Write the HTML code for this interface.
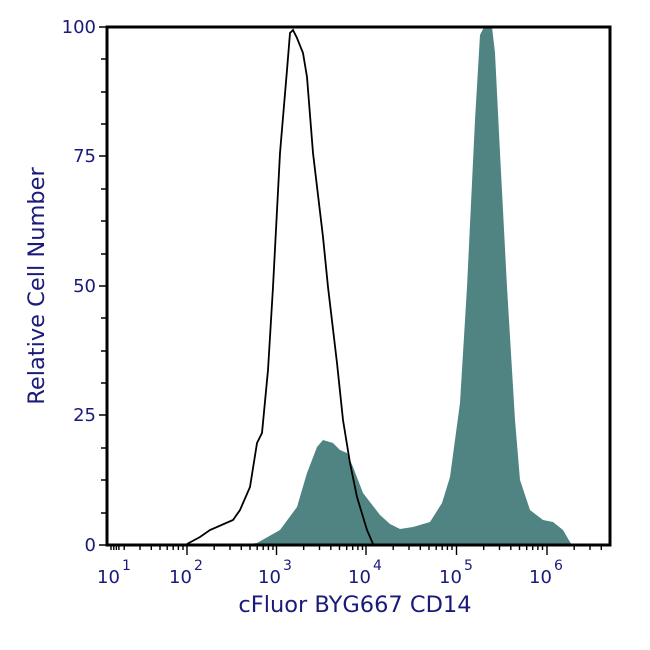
<!DOCTYPE html>
<html><head><style>body{margin:0;background:#fff}svg{display:block}</style></head><body>
<svg width="650" height="650" viewBox="0 0 650 650" xmlns="http://www.w3.org/2000/svg" font-family="DejaVu Sans, Liberation Sans, sans-serif">
<rect width="650" height="650" fill="#fff"/>
<path d="M240,545 L257,543 L280,530 L297,507 L307,473 L317,447 L323,440 L333,443 L340,450 L347,453 L353,467 L363,493 L380,515 L390,524 L400,529 L413,527 L430,522 L442,503 L450,477 L460,403 L467,287 L475,120 L480,35 L484,27 L492,27 L495,53 L500,153 L507,287 L515,420 L520,480 L530,510 L543,520 L553,522 L563,530 L570,542 L572,545 Z" fill="#4f8482"/>
<path d="M187,544 L200,537 L210,530 L233,520 L240,510 L250,487 L257,443 L262,433 L268,370 L273,287 L280,153 L287,70 L290,33 L293,30 L297,38 L303,53 L307,77 L313,153 L323,237 L328,287 L337,363 L343,420 L350,463 L357,497 L367,530 L373,544" fill="none" stroke="#000" stroke-width="1.8"/>
<rect x="107" y="27" width="503" height="518" fill="none" stroke="#000" stroke-width="3"/>
<g stroke="#000" stroke-width="1.5">
<line x1="99" y1="27" x2="107" y2="27"/><line x1="99" y1="156" x2="107" y2="156"/><line x1="99" y1="286" x2="107" y2="286"/><line x1="99" y1="415" x2="107" y2="415"/><line x1="99" y1="545" x2="107" y2="545"/>
<line x1="101" y1="59" x2="107" y2="59"/><line x1="101" y1="92" x2="107" y2="92"/><line x1="101" y1="124" x2="107" y2="124"/>
<line x1="101" y1="189" x2="107" y2="189"/><line x1="101" y1="221" x2="107" y2="221"/><line x1="101" y1="254" x2="107" y2="254"/>
<line x1="101" y1="318" x2="107" y2="318"/><line x1="101" y1="351" x2="107" y2="351"/><line x1="101" y1="383" x2="107" y2="383"/>
<line x1="101" y1="448" x2="107" y2="448"/><line x1="101" y1="480" x2="107" y2="480"/><line x1="101" y1="513" x2="107" y2="513"/>
</g>
<g stroke="#000" stroke-width="1.4" fill="none">
<path d="M187,545v10M276.5,545v10M366,545v10M456.5,545v10M547,545v10
M111,545v5M113.8,545v5M116.4,545v5M118.9,545v5
M124.2,545v5M140,545v5M151.3,545v5M160,545v5M167.2,545v5M173.2,545v5M178.4,545v5M183,545v5
M214.2,545v5M230,545v5M241.3,545v5M250,545v5M257.2,545v5M263.2,545v5M268.4,545v5M273,545v5
M303.7,545v5M319.5,545v5M330.8,545v5M339.5,545v5M346.7,545v5M352.7,545v5M357.9,545v5M362.5,545v5
M393.2,545v5M409,545v5M420.3,545v5M429,545v5M436.2,545v5M442.2,545v5M447.4,545v5M452,545v5
M483.7,545v5M499.5,545v5M510.8,545v5M519.5,545v5M526.7,545v5M532.7,545v5M537.9,545v5M542.5,545v5
M574.2,545v5M590,545v5M601.3,545v5"/>
</g>
<g fill="#1a1a7a" font-size="18">
<text x="96" y="33" text-anchor="end">100</text>
<text x="96" y="162" text-anchor="end">75</text>
<text x="96" y="292" text-anchor="end">50</text>
<text x="96" y="421" text-anchor="end">25</text>
<text x="96" y="551" text-anchor="end">0</text>
<text x="97" y="583">10</text><text x="122" y="570" font-size="14">1</text>
<text x="169" y="583">10</text><text x="194" y="570" font-size="14">2</text>
<text x="258" y="583">10</text><text x="283" y="570" font-size="14">3</text>
<text x="348" y="583">10</text><text x="373" y="570" font-size="14">4</text>
<text x="439" y="583">10</text><text x="464" y="570" font-size="14">5</text>
<text x="529" y="583">10</text><text x="554" y="570" font-size="14">6</text>
<text x="355" y="612" text-anchor="middle" font-size="22.5">cFluor BYG667 CD14</text>
<text transform="translate(44,286) rotate(-90)" text-anchor="middle" font-size="22.5">Relative Cell Number</text>
</g>
</svg>
</body></html>
